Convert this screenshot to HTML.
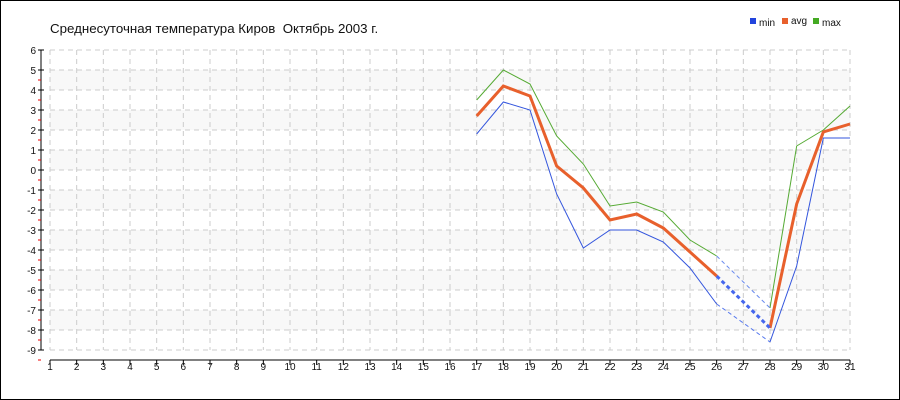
<!DOCTYPE html><html><head><meta charset="utf-8"><style>body{margin:0;background:#fff}svg{display:block;font-family:"Liberation Sans","DejaVu Sans",sans-serif}</style></head><body>
<svg width="900" height="400" xmlns="http://www.w3.org/2000/svg">
<rect x="0.5" y="0.5" width="899" height="399" fill="#fff" stroke="#000"/>
<text x="50" y="33" font-size="13.3" fill="#111" style="white-space:pre">Среднесуточная температура Киров  Октябрь 2003 г.</text>
<g font-size="10" fill="#111">
<rect x="750" y="18" width="6" height="6" fill="#2244dd"/><text x="759" y="26">min</text>
<rect x="782" y="18" width="6" height="6" fill="#e8602c"/><text x="791" y="24">avg</text>
<rect x="813" y="18" width="6" height="6" fill="#44aa22"/><text x="822" y="26">max</text>
</g>
<g id="plot"></g>
</svg>
<script>
const s=document.querySelector('#plot'),NS='http://www.w3.org/2000/svg';
function el(t,a,txt){const e=document.createElementNS(NS,t);for(const k in a)e.setAttribute(k,a[k]);if(txt!=null)e.textContent=txt;s.appendChild(e);return e;}
const X=d=>50+(d-1)*800/30,Y=v=>170-20*v;
for(let v=5;v>-9;v-=2)el('rect',{x:50,y:Y(v),width:800,height:20,fill:'#f8f8f8'});
for(let v=-9;v<=6;v++)el('line',{x1:50,x2:850,y1:Y(v),y2:Y(v),stroke:'#ccc','stroke-dasharray':'5,4'});
for(let d=1;d<=31;d++)el('line',{x1:X(d),x2:X(d),y1:50,y2:350,stroke:'#ccc','stroke-dasharray':'5,4'});
el('line',{x1:41,x2:41,y1:50,y2:350,stroke:'#000'});
for(let v=-9;v<=6;v++){el('line',{x1:38,x2:44,y1:Y(v),y2:Y(v),stroke:'#000'});el('text',{x:36,y:Y(v)+4,'font-size':10,'text-anchor':'end',fill:'#111'},v);
if(v<6)el('line',{x1:38,x2:41,y1:Y(v)+10,y2:Y(v)+10,stroke:'#e00'});}
el('line',{x1:50,x2:850,y1:360,y2:360,stroke:'#000'});
for(let d=1;d<=31;d++){el('line',{x1:X(d),x2:X(d),y1:360,y2:365,stroke:'#000'});el('text',{x:X(d),y:370,'font-size':10,'text-anchor':'middle',fill:'#111'},d);}
const mx=[3.5,5.0,4.3,1.7,0.3,-1.8,-1.6,-2.1,-3.5,-4.3],mx2=[-6.9,1.2,2.0,3.2];
const av=[2.7,4.2,3.7,0.2,-0.9,-2.5,-2.2,-2.9,-4.1,-5.3],av2=[-7.9,-1.7,1.9,2.3];
const mn=[1.8,3.4,3.0,-1.2,-3.9,-3.0,-3.0,-3.6,-4.9,-6.7],mn2=[-8.6,-4.8,1.6,1.6];
function pl(a,start,c,w){el('polyline',{points:a.map((v,i)=>X(start+i)+','+Y(v)).join(' '),fill:'none',stroke:c,'stroke-width':w});}
function ds(v1,v2,c,w,da){el('line',{x1:X(26),y1:Y(v1),x2:X(28),y2:Y(v2),stroke:c,'stroke-width':w,'stroke-dasharray':da});}
pl(mn,17,'#3355dd',1);pl(mn2,28,'#3355dd',1);ds(-6.7,-8.6,'#5577ee',1,'4,3');
pl(mx,17,'#55aa33',1);pl(mx2,28,'#55aa33',1);ds(-4.3,-6.9,'#6688ee',1,'4,3');
pl(av,17,'#e8602c',3);pl(av2,28,'#e8602c',3);ds(-5.3,-7.9,'#4466ee',3,'4,3');
</script>
</body></html>
